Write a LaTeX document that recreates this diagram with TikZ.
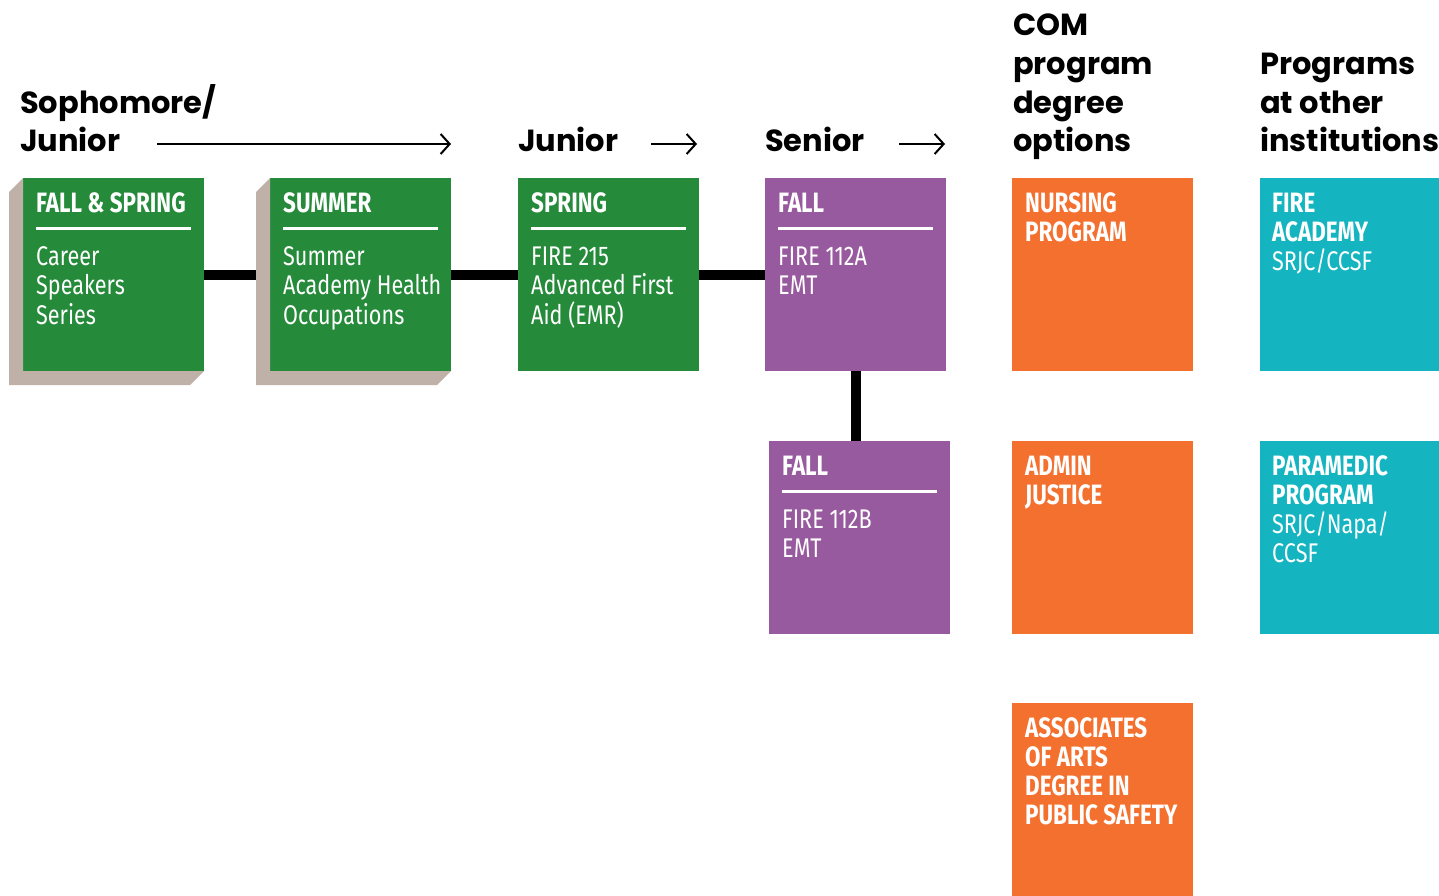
\documentclass[tikz,border=0pt]{standalone}
\usepackage{fontspec}
\setmainfont{Fira Sans}
\newfontfamily\headfont{Poppins}
\newfontfamily\boxfont[FakeStretch=0.8]{Fira Sans}
\usetikzlibrary{arrows.meta,calc,positioning}
\definecolor{boxgreen}{HTML}{258B3A}
\definecolor{boxpurple}{HTML}{985A9E}
\definecolor{boxorange}{HTML}{F4702E}
\definecolor{boxteal}{HTML}{14B5C0}
\definecolor{boxshadow}{HTML}{BFB1A7}
\tikzset{
  box/.style={minimum width=181, minimum height=193, inner sep=0, outer sep=0, anchor=north west},
  boxtitle/.style={font=\boxfont\bfseries\fontsize{28}{29}\selectfont, text=white, inner sep=0, align=left, anchor=base west},
  boxbody/.style={font=\boxfont\fontsize{27}{29.5}\selectfont, text=white, inner sep=0, align=left, anchor=base west},
  heading/.style={font=\headfont\bfseries\fontsize{30.5}{38.7}\selectfont, inner sep=0, align=left, anchor=base west},
  link/.style={line width=10, black},
  rule/.style={white, line width=3},
  timearrow/.style={line width=2, -{Straight Barb[length=9,width=20,line width=2]}}
}
\begin{document}
\begin{tikzpicture}[x=1pt,y=-1pt]
\useasboundingbox (0,0) rectangle (1439,896);

% boxes
\node[box, fill=boxgreen] (fs) at (23,178) {};
\node[box, fill=boxgreen] (su) at (270,178) {};
\node[box, fill=boxgreen] (sp) at (518,178) {};
\node[box, fill=boxpurple] (fa) at (765,178) {};
\node[box, fill=boxpurple] (fb) at (769,441) {};
\node[box, fill=boxorange] (nur) at (1012,178) {};
\node[box, fill=boxorange] (adm) at (1012,441) {};
\node[box, fill=boxorange] (aa) at (1012,703) {};
\node[box, fill=boxteal, minimum width=179] (fac) at (1260,178) {};
\node[box, fill=boxteal, minimum width=179] (par) at (1260,441) {};

% links
\draw[link] (fs) -- (su);
\draw[link] (su) -- (sp);
\draw[link] (sp) -- (fa);
\draw[link] (fa.south) -- (fa.south |- fb.north);

% shadows
\foreach \b in {fs,su}
  \fill[boxshadow] (\b.north west) -- ++(-14,14) -- ($(\b.south west)+(-14,14)$)
    -- ($(\b.south east)+(-14,14)$) -- (\b.south east) -- (\b.south west) -- cycle;

% headings (anchored at last baseline)
\node[heading] (h1) at (20,152) {Sophomore/\\Junior};
\node[heading] (h2) at (518,152) {Junior};
\node[heading] (h3) at (765,152) {Senior};
\node[heading] (h4) at (1013,152) {COM\\program\\degree\\options};
\node[heading] (h5) at (1260,152) {Programs\\at other\\institutions};

% arrows
\coordinate (a1s) at (157,144);
\coordinate (a1e) at (su.north east |- a1s);
\coordinate (a2s) at (651,144);
\coordinate (a2e) at (697,144);
\coordinate (a3s) at (899,144);
\coordinate (a3e) at (945,144);
\draw[timearrow] (a1s) -- (a1e);
\draw[timearrow] (a2s) -- (a2e);
\draw[timearrow] (a3s) -- (a3e);

% green and purple texts
\foreach \b/\t in {fs/FALL \& SPRING, su/SUMMER, sp/SPRING, fa/FALL, fb/FALL} {
  \node[boxtitle] at ($(\b.north west)+(13,34)$) {\t};
  \draw[rule] ($(\b.north west)+(13,50)$) -- ($(\b.north east)+(-13,50)$);
}
\node[boxbody] (fst) at ($(fs.north west)+(13,146)$) {Career\\Speakers\\Series};
\node[boxbody] (sut) at ($(su.north west)+(13,146)$) {Summer\\Academy Health\\Occupations};
\node[boxbody] (spt) at ($(sp.north west)+(13,146)$) {FIRE 215\\Advanced First\\Aid (EMR)};
\node[boxbody] (fat) at ($(fa.north west)+(13,116.5)$) {FIRE 112A\\EMT};
\node[boxbody] (fbt) at ($(fb.north west)+(13,116.5)$) {FIRE 112B\\EMT};

% orange and teal texts
\node[boxtitle] (nurt) at ($(nur.north west)+(13,63)$) {NURSING\\PROGRAM};
\node[boxtitle] (admt) at ($(adm.north west)+(13,63)$) {ADMIN\\JUSTICE};
\node[boxtitle] (aat) at ($(aa.north west)+(13,121)$) {ASSOCIATES\\OF ARTS\\DEGREE IN\\PUBLIC SAFETY};
\node[boxtitle] (fact) at ($(fac.north west)+(12,63)$) {FIRE\\ACADEMY};
\node[boxbody] (facs) at ($(fac.north west)+(12,92)$) {SRJC/CCSF};
\node[boxtitle] (part) at ($(par.north west)+(12,63)$) {PARAMEDIC\\PROGRAM};
\node[boxbody] (pars) at ($(par.north west)+(12,121.5)$) {SRJC/Napa/\\CCSF};

\end{tikzpicture}
\end{document}
